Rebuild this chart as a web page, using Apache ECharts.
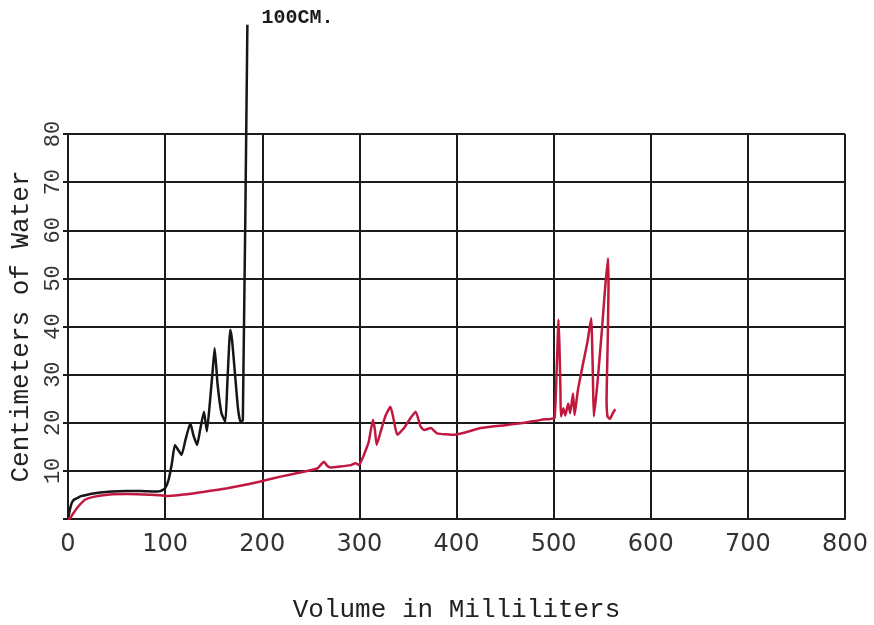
<!DOCTYPE html>
<html>
<head>
<meta charset="utf-8">
<script src="https://cdn.jsdelivr.net/npm/echarts@6/dist/echarts.min.js"></script>
<style>
html,body{margin:0;padding:0;background:#fff;}
#chart{width:874px;height:625px;}
</style>
</head>
<body>
<div id="chart"></div>
<script>
// Tick values
var xTicks = [0, 100, 200, 300, 400, 500, 600, 700, 800];
var yTicks = [0, 10, 20, 30, 40, 50, 60, 70, 80];

// Black trace: [volume ml, cm of water]
var blackData = [
  [0,0],[2,2],[3.8,3.3],[6,4],[9,4.3],[14,4.8],[19,5],[26,5.3],[33,5.5],[45,5.7],[60,5.8],[75,5.8],[88,5.7],[95,5.8],
  [100,6.4],[103.5,8.1],[107,11.6],[110,15.4],[113,14.5],[117,13.3],[121,16.5],[126,19.9],[129,17.5],[133,15.4],
  [136,18.5],[140,22.3],[143,18.2],[146,24],[149,31],[151,35.5],[154,28],[158,22],[162,20.2],[164,28],[166,36.5],
  [167,39.3],[169,37],[172,30],[175,23],[177.5,20.2],[180,20.5],[184.7,102.7]
];

// Red trace: [volume ml, cm of water]
var redData = [
  [0,0],[2,0.1],[5.5,1.2],[10.6,2.6],[17.5,4],[26,4.6],[43,5.1],[60,5.2],[78,5.1],[90,5],[102,4.8],[115,5],
  [129,5.3],[145,5.8],[164,6.4],[180,7],[198,7.8],[218.8,8.8],[240,9.7],[256.6,10.5],[260,11.2],[263.5,11.9],
  [267,11],[270.4,10.7],[280,10.9],[291,11.2],[296,11.6],[299.5,11.2],[303,12.5],[306,14],[309.6,16],[314,20.6],
  [316,18.5],[317.8,15.4],[322,18.2],[327,21.5],[332,23.3],[335,21],[339,17.5],[346,18.9],[352,20.8],[358,22.3],
  [363,19.2],[366.7,18.5],[373.6,18.9],[380,17.8],[397.6,17.5],[425,18.9],[450,19.5],[470,20],[487,20.6],
  [497,20.8],[501,21],[503,30],[505,41.4],[506,36],[507,27],[507.5,21.3],[510,23],[512,21.5],[515,24],[517,22],
  [520,26.1],[521.6,21.6],[525,26.8],[530,32],[535,37],[538.7,41.7],[539.5,38],[540.5,29],[541.4,21.3],[545,28],
  [550,40],[553,48],[556,54.2],[556.5,48],[555.5,35],[554.5,25],[555.5,21.3],[558,20.8],[561,22],[563.5,22.8]
];

var topLabel = '100CM.';
var xTitle = 'Volume in Milliliters';
var yTitle = 'Centimeters of Water';

var gridColor = '#1c1c1c';
var monoFont = '"Liberation Mono", "DejaVu Sans Mono", monospace';

var blackTop = blackData[blackData.length - 1];

var chart = echarts.init(document.getElementById('chart'), null, {renderer: 'canvas'});
chart.setOption({
  backgroundColor: '#ffffff',
  animation: false,
  grid: {left: 68, right: 29, top: 134, bottom: 106, containLabel: false, outerBoundsMode: 'none'},
  xAxis: {
    type: 'value', min: xTicks[0], max: xTicks[xTicks.length - 1], interval: 100,
    name: xTitle, nameLocation: 'middle', nameGap: 78,
    nameTextStyle: {fontFamily: monoFont, fontSize: 26, color: '#222'},
    axisLine: {show: true, onZero: false, lineStyle: {color: gridColor, width: 2}},
    axisTick: {show: false},
    axisLabel: {margin: 14, fontFamily: '"DejaVu Sans", sans-serif', fontSize: 24, color: '#333'},
    splitLine: {show: true, lineStyle: {color: gridColor, width: 2}}
  },
  yAxis: {
    type: 'value', min: yTicks[0], max: yTicks[yTicks.length - 1], interval: 10,
    name: yTitle, nameLocation: 'middle', nameGap: 33, nameRotate: 90,
    nameTextStyle: {fontFamily: monoFont, fontSize: 26, color: '#222'},
    axisLine: {show: true, lineStyle: {color: gridColor, width: 2}},
    axisTick: {show: true, length: 5, lineStyle: {color: gridColor, width: 2}},
    axisLabel: {
      rotate: 90, margin: 4, fontFamily: monoFont, fontSize: 22, color: '#333',
      formatter: function (v) { return v === 0 ? '' : String(v); }
    },
    splitLine: {show: true, lineStyle: {color: gridColor, width: 2}}
  },
  series: [
    {
      type: 'line', name: 'black', data: blackData, showSymbol: false, symbol: 'none',
      clip: false, smooth: 0.15,
      lineStyle: {color: '#161616', width: 2.5}, z: 3
    },
    {
      type: 'line', name: 'red', data: redData, showSymbol: false, symbol: 'none',
      clip: false, smooth: 0.15,
      lineStyle: {color: '#c0183f', width: 2.5}, z: 4
    }
  ]
});

// Annotation at the top of the black trace, positioned through the chart's own scales
var topPx = chart.convertToPixel({gridIndex: 0}, blackTop);
chart.setOption({
  graphic: [{
    type: 'text', silent: true,
    x: topPx[0] + 14, y: topPx[1] - 7,
    style: {
      text: topLabel, fontFamily: monoFont, fontSize: 20, fontWeight: 'bold',
      fill: '#1a1a1a', verticalAlign: 'middle', align: 'left'
    }
  }]
});
</script>
</body>
</html>
